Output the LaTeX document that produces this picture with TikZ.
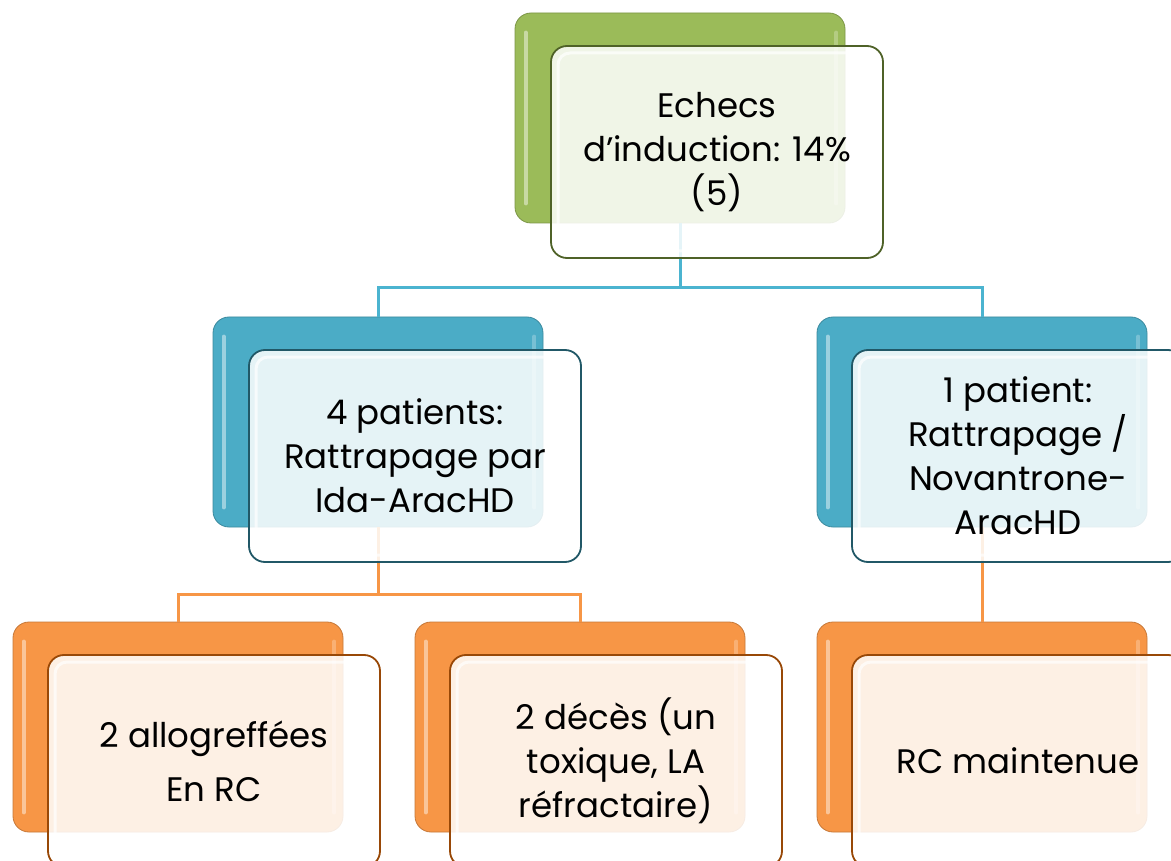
\documentclass[tikz,border=0pt]{standalone}
\usepackage{fontspec}
\newfontfamily\boxfont{Poppins}
\definecolor{gback}{HTML}{9BBB59}
\definecolor{gedge}{HTML}{4F6228}
\definecolor{bback}{HTML}{4BACC6}
\definecolor{bedge}{HTML}{215867}
\definecolor{oback}{HTML}{F79646}
\definecolor{oedge}{HTML}{984807}
\definecolor{bline}{HTML}{4BB4D0}
\definecolor{oline}{HTML}{F79646}
\tikzset{
  backbox/.style={rectangle, rounded corners=16pt, minimum width=330pt, minimum height=210pt,
    fill=#1, draw=#1!80!black, line width=0.8pt, inner sep=0pt},
  frontbox/.style={rectangle, rounded corners=16pt, minimum width=332pt, minimum height=212pt,
    draw=#1, line width=1.8pt, fill=white, fill opacity=0.86, text opacity=1,
    align=center, inner sep=0pt, font=\boxfont\fontsize{34}{44}\selectfont},
  glow/.style={rectangle, rounded corners=12pt, minimum width=318pt, minimum height=198pt,
    draw=white, line width=3pt, draw opacity=0.7, inner sep=0pt},
  shine/.style={line width=4pt, white, opacity=0.45, line cap=round},
  conn/.style={line width=3pt, draw=#1},
}
\begin{document}
\begin{tikzpicture}[x=1pt,y=-1pt]
\useasboundingbox (0,0) rectangle (1171,861);
\clip (0,0) rectangle (1171,861);
\fill[white] (0,0) rectangle (1171,861);
% back boxes
\node[backbox=gback] (tb) at (680,118) {};
\node[backbox=bback] (lb) at (378,422) {};
\node[backbox=bback] (rb) at (982,422) {};
\node[backbox=oback] (b1) at (178,727) {};
\node[backbox=oback] (b2) at (580,727) {};
\node[backbox=oback] (b3) at (982,727) {};
\foreach \n in {tb,lb,rb,b1,b2,b3}{
  \draw[shine] ([xshift=11pt,yshift=-20pt]\n.north west) -- ([xshift=11pt,yshift=20pt]\n.south west);
  \draw[shine,opacity=0.25] ([xshift=-9pt,yshift=-20pt]\n.north east) -- ([xshift=-9pt,yshift=20pt]\n.south east);
}
% connectors
\coordinate (bus1) at (680,288);
\coordinate (bus2) at (378,594);
\draw[conn=bline] (tb.south) -- (bus1) -| (lb.north);
\draw[conn=bline] (bus1) -| (rb.north);
\draw[conn=oline] (lb.south) -- (bus2) -| (b1.north);
\draw[conn=oline] (bus2) -| (b2.north);
\draw[conn=oline] (rb.south) -- (b3.north);
% front boxes
\node[frontbox=gedge] (tf) at (717,152) {Echecs\\d’induction: 14\%\\(5)};
\node[frontbox=bedge] (lf) at (415,456) {4 patients:\\Rattrapage par\\Ida-AracHD};
\node[frontbox=bedge] (rf) at (1018,456) {1 patient:\\Rattrapage /\\Novantrone-\\AracHD};
\node[frontbox=oedge] (f1) at (214,761) {2 allogreffées\\[10pt]En RC};
\node[frontbox=oedge] (f2) at (616,761) {2 décès (un\\toxique, LA\\réfractaire)};
\node[frontbox=oedge] (f3) at (1018,761) {RC maintenue};
\foreach \n in {tf,lf,rf,f1,f2,f3}{
  \node[glow] at (\n.center) {};
}
\end{tikzpicture}
\end{document}
